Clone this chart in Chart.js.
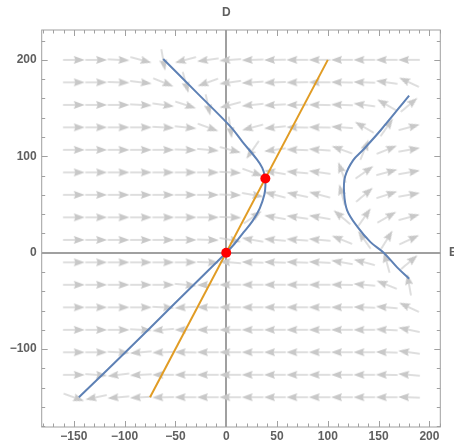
<!DOCTYPE html>
<html>
<head>
<meta charset="utf-8">
<script src="https://cdn.jsdelivr.net/npm/chart.js@4.4.0/dist/chart.umd.min.js"></script>
<style>
  html, body { margin: 0; padding: 0; background: #fff; }
  #wrap { width: 454px; height: 445px; }
</style>
</head>
<body>
<div id="wrap"><canvas id="chart" width="454" height="445"></canvas></div>
<script>
// direction field grid: E across, D up
const gridE = [-150, -128, -106, -84, -62, -40, -18, 4, 26, 48, 70, 92, 114, 136, 158, 180];
const gridD = [200, 176.7, 153.3, 130, 106.7, 83.3, 60, 36.7, 13.3, -10, -33.3, -56.7, -80, -103.3, -126.7, -150];

// arrow direction in degrees (0 = towards +E, 90 = towards +D), one row per gridD value
const arrowAngles = [
  [0, 0, -3, -15, -80, 195, 188, 184, 182, 181, 180, 180, 180, 180, 180, 180],
  [0, 0, -2, -7, -22, -75, 200, 188, 184, 182, 181, 180, 179, 178, 172, 155],
  [0, 0, 0, -3, -8, -18, -78, 195, 186, 183, 181, 179, 178, 172, 150, 40],
  [0, 0, 0, 0, -3, -6, -20, -82, 195, 186, 179, 179, 176, 150, 55, 15],
  [0, 0, 0, 0, 0, -2, -5, -15, 235, 188, 178, 176, 160, 68, 22, 10],
  [0, 0, 0, 0, 0, 0, 0, -3, -20, 170, 175, 172, 110, 35, 15, 10],
  [0, 0, 0, 0, 0, 0, 0, -2, -10, 165, 168, 165, 105, 40, 18, 10],
  [0, 0, 0, 0, 0, 0, 0, -2, 35, 170, 172, 170, 140, 55, 30, 15],
  [0, 0, 0, 0, 0, 0, -2, -10, 170, 175, 176, 175, 158, 125, 58, 25],
  [0, 0, 0, 0, 0, 0, -2, 175, 178, 178, 178, 177, 170, 165, 105, 40],
  [0, 0, 0, 0, 0, -5, 182, 180, 180, 180, 180, 180, 179, 175, 158, 100],
  [0, 0, 0, 0, -3, 183, 179, 180, 180, 180, 180, 180, 180, 178, 175, 155],
  [0, 0, 0, -3, 185, 180, 180, 180, 180, 180, 180, 180, 180, 180, 177, 168],
  [0, 0, -3, 185, 182, 179, 180, 180, 180, 180, 180, 180, 180, 180, 178, 172],
  [0, -4, 187, 183, 180, 180, 180, 180, 180, 180, 180, 180, 180, 180, 179, 175],
  [-20, 192, 185, 183, 181, 180, 180, 180, 180, 180, 180, 180, 180, 180, 180, 178]
];

// E-nullcline (blue), two branches, as [E, D]
const blueLeft = [[-145, -150], [-100, -104], [-50, -52], [0, 0], [8, 9], [17, 21], [26, 33], [33, 46],
  [37.5, 60], [38.6, 70], [38, 79], [35.5, 88], [30, 97], [16, 115], [4, 131], [-29, 166], [-62, 201]];
const blueRight = [[180, 163], [152, 127], [135, 107], [125, 96], [117, 79], [116, 62], [119, 44],
  [129, 27], [142, 11], [155, 0], [168, -15], [180, -27]];
// D-nullcline (orange)
const orangeLine = [[-75, -150], [100, 200]];
// equilibria
const fixedPoints = [[0, 0], [38.5, 77]];

const xTicks = [-150, -100, -50, 0, 50, 100, 150, 200];
const yTicks = [-100, 0, 100, 200];

const toXY = pts => pts.map(p => ({ x: p[0], y: p[1] }));
const fmt = v => (v < 0 ? '\u2212' + Math.abs(v) : String(v));

// arrow sprite pointing right, drawn once and rotated per point by Chart.js
function makeArrow() {
  const c = document.createElement('canvas');
  c.width = 24; c.height = 24;
  const g = c.getContext('2d');
  g.strokeStyle = '#c8c8c8';
  g.fillStyle = '#c8c8c8';
  g.lineWidth = 1.2;
  g.beginPath();
  g.moveTo(1.2, 12);
  g.lineTo(14, 12);
  g.stroke();
  g.beginPath();
  g.moveTo(23, 12);
  g.lineTo(12, 8);
  g.lineTo(13.5, 12);
  g.lineTo(12, 16);
  g.closePath();
  g.fill();
  return c;
}
const arrowImg = makeArrow();

const arrowData = [];
gridD.forEach((d, r) => gridE.forEach((e, c) => arrowData.push({ x: e, y: d, a: arrowAngles[r][c] })));

const tickFont = { family: 'Liberation Sans', size: 12, weight: 'bold' };
const tickColor = '#5f5f5f';
const frameColor = '#a0a0a0';

// frame with inward ticks plus axis names
const framePlugin = {
  id: 'frame',
  afterDraw(chart) {
    const { ctx, chartArea: a, scales: { x, y } } = chart;
    ctx.save();
    ctx.strokeStyle = frameColor;
    ctx.lineWidth = 1;
    ctx.strokeRect(a.left, a.top, a.right - a.left, a.bottom - a.top);
    ctx.beginPath();
    for (let v = -180; v <= 210; v += 10) {
      const px = Math.round(x.getPixelForValue(v)) + 0.5;
      const len = v % 50 === 0 ? 6 : 3.5;
      ctx.moveTo(px, a.bottom); ctx.lineTo(px, a.bottom - len);
      ctx.moveTo(px, a.top); ctx.lineTo(px, a.top + len);
    }
    for (let v = -180; v <= 220; v += 20) {
      const py = Math.round(y.getPixelForValue(v)) + 0.5;
      const len = v % 100 === 0 ? 6 : 3.5;
      ctx.moveTo(a.left, py); ctx.lineTo(a.left + len, py);
      ctx.moveTo(a.right, py); ctx.lineTo(a.right - len, py);
    }
    ctx.stroke();
    ctx.fillStyle = tickColor;
    ctx.font = 'bold 12px "Liberation Sans"';
    ctx.textBaseline = 'middle';
    ctx.textAlign = 'center';
    ctx.fillText('D', x.getPixelForValue(0), 13);
    ctx.textAlign = 'left';
    ctx.fillText('E', 449, y.getPixelForValue(0));
    ctx.restore();
  }
};

new Chart(document.getElementById('chart'), {
  type: 'scatter',
  data: {
    datasets: [
      {
        data: toXY(fixedPoints),
        pointRadius: 5,
        pointBackgroundColor: '#ff0000',
        pointBorderWidth: 0,
        order: 0
      },
      {
        data: toXY(blueLeft),
        showLine: true,
        borderColor: '#5e81b5',
        borderWidth: 2,
        tension: 0.35,
        pointRadius: 0,
        order: 1
      },
      {
        data: toXY(blueRight),
        showLine: true,
        borderColor: '#5e81b5',
        borderWidth: 2,
        tension: 0.35,
        pointRadius: 0,
        order: 1
      },
      {
        data: toXY(orangeLine),
        showLine: true,
        borderColor: '#e19c24',
        borderWidth: 2,
        pointRadius: 0,
        order: 2
      },
      {
        data: arrowData,
        pointStyle: arrowImg,
        pointRadius: 3,
        rotation: ctx => (ctx.raw ? -ctx.raw.a : 0),
        order: 3
      }
    ]
  },
  options: {
    responsive: false,
    animation: false,
    events: [],
    devicePixelRatio: 1,
    layout: { padding: { top: 30, right: 13.7, left: 0, bottom: 0 } },
    plugins: { legend: { display: false }, tooltip: { enabled: false } },
    scales: {
      x: {
        type: 'linear',
        min: -181.6,
        max: 210.7,
        afterFit: s => { s.height = 18; },
        afterBuildTicks: s => { s.ticks = xTicks.map(v => ({ value: v })); },
        border: { display: false },
        grid: {
          drawTicks: false,
          lineWidth: 2,
          color: c => (c.tick && c.tick.value === 0 ? frameColor : 'rgba(0,0,0,0)')
        },
        ticks: { padding: 2, font: tickFont, color: tickColor, callback: fmt, maxRotation: 0, autoSkip: false }
      },
      y: {
        type: 'linear',
        min: -180.8,
        max: 231,
        afterFit: s => { s.width = 41.7; },
        afterBuildTicks: s => { s.ticks = yTicks.map(v => ({ value: v })); },
        border: { display: false },
        grid: {
          drawTicks: false,
          lineWidth: 2,
          color: c => (c.tick && c.tick.value === 0 ? frameColor : 'rgba(0,0,0,0)')
        },
        ticks: { padding: 5, font: tickFont, color: tickColor, callback: fmt, autoSkip: false }
      }
    }
  },
  plugins: [framePlugin]
});
</script>
</body>
</html>
